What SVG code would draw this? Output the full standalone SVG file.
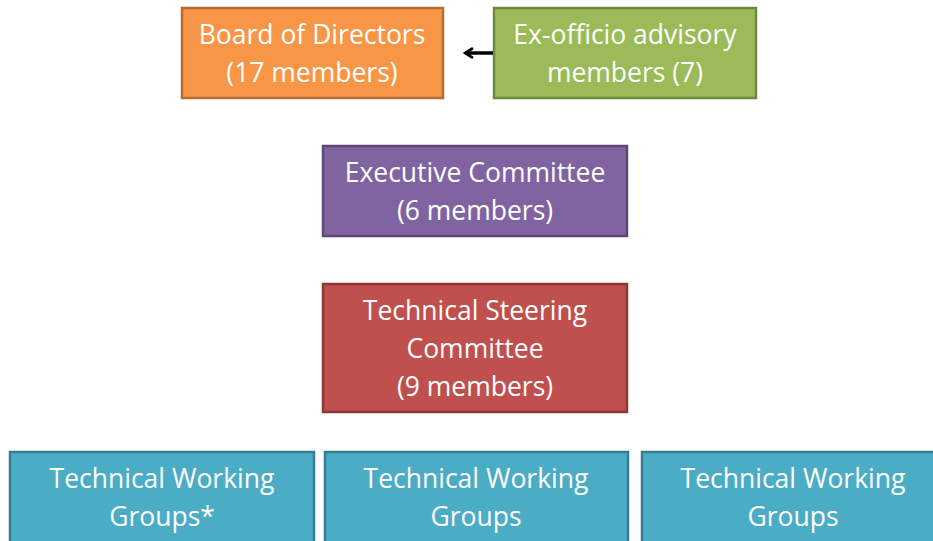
<svg xmlns="http://www.w3.org/2000/svg" width="933" height="541" viewBox="0 0 933 541">
<style>
rect{stroke-width:2.5}
text{font-family:"Open Sans","Liberation Sans",sans-serif;font-size:26.5px;fill:#fff;text-anchor:middle}
.o{fill:#F79646;stroke:#B66D31}
.g{fill:#9BBB59;stroke:#71893F}
.p{fill:#8064A2;stroke:#5C4776}
.r{fill:#C0504D;stroke:#8C3836}
.b{fill:#4BACC6;stroke:#357D91}
</style>
<defs>
<marker id="ah" viewBox="0 0 10 10" refX="8" refY="5" markerWidth="3.5" markerHeight="3.5" orient="auto">
<path d="M1.5,1 L8,5 L1.5,9" fill="none" stroke="#000" stroke-width="2.2"/>
</marker>
</defs>
<rect width="933" height="541" fill="#fff" stroke="none"/>
<g id="board"><rect class="o" x="182" y="8" width="261" height="90"/><text x="312" y="44">Board of Directors</text><text x="312" y="82">(17 members)</text></g>
<g id="exofficio"><rect class="g" x="494" y="8" width="262" height="90"/><text x="625" y="44">Ex-officio advisory</text><text x="625" y="82">members (7)</text></g>
<g id="exec"><rect class="p" x="323" y="146" width="304" height="90"/><text x="475" y="182">Executive Committee</text><text x="475" y="220">(6 members)</text></g>
<g id="tsc"><rect class="r" x="323" y="284" width="304" height="128"/><text x="475" y="320">Technical Steering</text><text x="475" y="358">Committee</text><text x="475" y="396">(9 members)</text></g>
<g id="twg1"><rect class="b" x="10" y="452" width="304" height="100"/><text x="162" y="488">Technical Working</text><text x="162" y="526">Groups*</text></g>
<g id="twg2"><rect class="b" x="325" y="452" width="303" height="100"/><text x="476" y="488">Technical Working</text><text x="476" y="526">Groups</text></g>
<g id="twg3"><rect class="b" x="642" y="452" width="300" height="100"/><text x="793" y="488">Technical Working</text><text x="793" y="526">Groups</text></g>
<g id="connectors"><line x1="493" y1="53" x2="465" y2="53" stroke="#000" stroke-width="3.5" marker-end="url(#ah)"/></g>
</svg>
